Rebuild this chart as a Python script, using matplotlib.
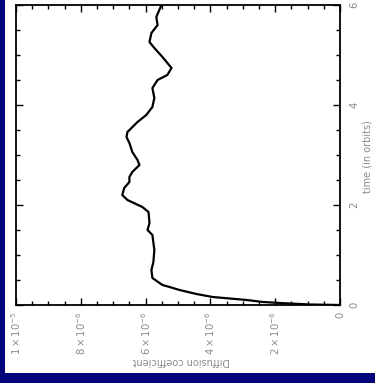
import matplotlib
matplotlib.use("Agg")
import matplotlib.pyplot as plt
from matplotlib.patches import Rectangle
from matplotlib.ticker import MultipleLocator, FixedLocator, FixedFormatter

# Diffusion coefficient history (time in orbits, coefficient in units of 1e-6)
time_orbits = [0.00, 0.01, 0.04, 0.06, 0.10, 0.16, 0.22, 0.30, 0.36, 0.40,
               0.54, 0.70, 0.86, 1.10, 1.40, 1.50, 1.64, 1.86, 1.96, 2.10,
               2.20, 2.34, 2.46, 2.56, 2.66, 2.80, 2.90, 3.06, 3.24, 3.36,
               3.46, 3.66, 3.80, 3.96, 4.14, 4.34, 4.50, 4.60, 4.74, 4.96,
               5.14, 5.26, 5.44, 5.60, 5.76, 6.00]
diff_coeff = [0.00, 0.93, 1.86, 2.38, 2.88, 3.93, 4.43, 4.95, 5.26, 5.48,
              5.79, 5.82, 5.76, 5.73, 5.79, 5.94, 5.88, 5.91, 6.10, 6.56,
              6.72, 6.66, 6.50, 6.50, 6.41, 6.19, 6.25, 6.41, 6.50, 6.59,
              6.56, 6.25, 5.98, 5.79, 5.73, 5.79, 5.63, 5.33, 5.20, 5.48,
              5.73, 5.88, 5.82, 5.63, 5.67, 5.51]

coeff_ticks = [10, 8, 6, 4, 2, 0]
coeff_tick_labels = [r"$1\times10^{-5}$", r"$8\times10^{-6}$", r"$6\times10^{-6}$",
                     r"$4\times10^{-6}$", r"$2\times10^{-6}$", "0"]
time_ticks = [0, 2, 4, 6]
time_tick_labels = ["0", "2", "4", "6"]

navy = "#03037a"
grey = "#8a8a8a"

fig = plt.figure(figsize=(3.75, 3.83), dpi=100)
fig.patch.set_facecolor("white")
W, H = 375, 383
# dark frame strips on the left and bottom
fig.patches.append(Rectangle((0, 0), 5 / W, 1, transform=fig.transFigure,
                             facecolor=navy, edgecolor="none", zorder=0))
fig.patches.append(Rectangle((0, 0), 1, 10 / H, transform=fig.transFigure,
                             facecolor=navy, edgecolor="none", zorder=0))

ax = fig.add_axes([16 / W, 1 - 305 / H, (340 - 16) / W, 300 / H])
ax.plot(diff_coeff, time_orbits, color="black", lw=1.6, solid_joinstyle="round")

ax.set_xlim(10, 0)
ax.set_ylim(0, 6)

ax.xaxis.set_major_locator(FixedLocator(coeff_ticks))
ax.xaxis.set_major_formatter(FixedFormatter(coeff_tick_labels))
ax.xaxis.set_minor_locator(MultipleLocator(0.5))
ax.yaxis.set_major_locator(FixedLocator(time_ticks))
ax.yaxis.set_major_formatter(FixedFormatter(time_tick_labels))
ax.yaxis.set_minor_locator(MultipleLocator(0.5))

ax.tick_params(which="both", direction="in", top=True, bottom=True,
               left=True, right=True, labelleft=False, labelright=True,
               color="black", width=1.0)
ax.tick_params(which="major", length=5)
ax.tick_params(which="minor", length=3)
ax.tick_params(axis="x", which="major", labelsize=7.2, labelcolor=grey,
               labelrotation=90, pad=5)
ax.tick_params(axis="y", which="major", labelsize=7.2, labelcolor=grey,
               labelrotation=90, pad=7)
for lbl in ax.get_yticklabels():
    lbl.set_va("center")

for s in ax.spines.values():
    s.set_linewidth(1.3)

fig.text(181 / W, 1 - 361 / H, "Diffusion coefficient", rotation=180,
         ha="center", va="center", fontsize=7, color=grey)
fig.text(368 / W, 1 - 157 / H, "time (in orbits)", rotation=90,
         ha="center", va="center", fontsize=7, color=grey)

fig.savefig("out.png", dpi=100)
